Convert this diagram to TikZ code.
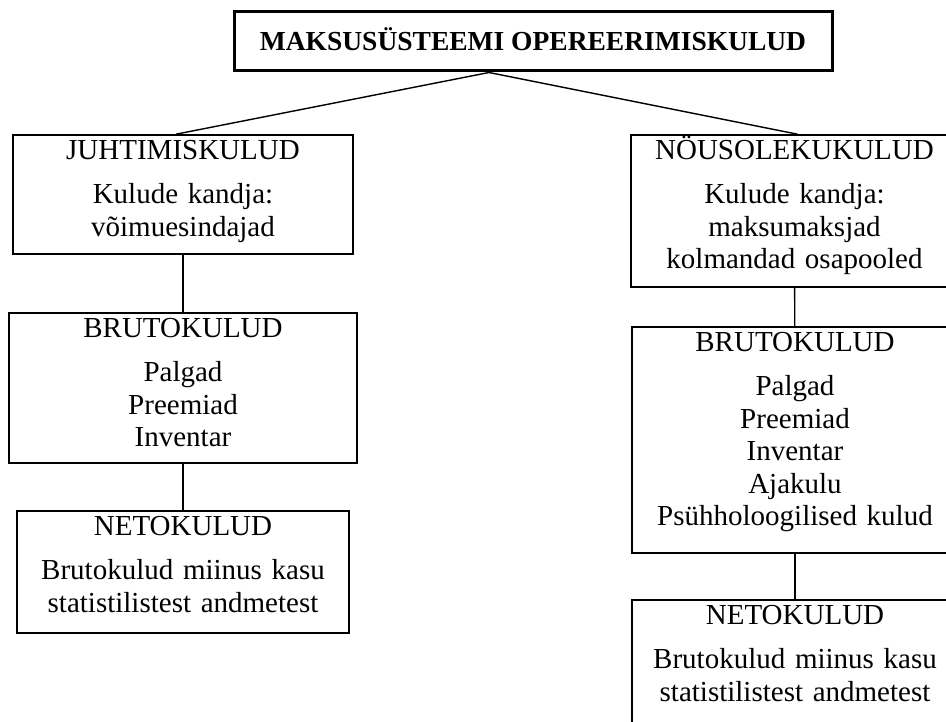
\documentclass[tikz,border=0pt]{standalone}
\usepackage{fontspec}
\setmainfont{Liberation Serif}
\usetikzlibrary{positioning}

\tikzset{
  box/.style={draw, line width=1.6pt, inner sep=0pt},
  boxtext/.style={anchor=base, inner sep=0pt, text width=#1, align=center,
    font=\fontsize{29}{32.5}\selectfont},
  link/.style={line width=1.4pt},
}

\begin{document}
\begin{tikzpicture}[x=1pt,y=-1pt]
        \useasboundingbox (0,0) rectangle (946,722);
        \clip (0,0) rectangle (946,722);
        % Title
        \node[box, line width=3pt, minimum width=598pt, minimum height=59pt,
          text height=18pt, text depth=0pt,
          font=\bfseries\fontsize{27.5}{32}\selectfont] (title) at (533,41.5)
          {MAKSUSÜSTEEMI OPEREERIMISKULUD};
        \coordinate (apex) at ([xshift=-44pt]title.south);
        % Left branch
        \node[box, minimum width=340pt, minimum height=119pt] (juht) at (183,194.5) {};
        \node[boxtext=330pt] (juhttxt) at ([yshift=-25.5pt]juht.north)
          {JUHTIMISKULUD\\[11.5pt] Kulude kandja:\\ võimuesindajad};
        \node[box, minimum width=348pt, minimum height=150pt] (brutoL) at (183,388) {};
        \node[boxtext=330pt] (brutoLtxt) at ([yshift=-25.5pt]brutoL.north)
          {BRUTOKULUD\\[11.5pt] Palgad\\ Preemiad\\ Inventar};
        \node[box, minimum width=332pt, minimum height=122pt] (netoL) at (183,572) {};
        \node[boxtext=330pt] (netoLtxt) at ([yshift=-25.5pt]netoL.north)
          {NETOKULUD\\[11.5pt] Brutokulud miinus kasu\\ statistilistest andmetest};
        % Right branch
        \node[box, minimum width=327pt, minimum height=152pt] (nous) at (794.5,211) {};
        \node[boxtext=325pt] (noustxt) at ([yshift=-25.5pt]nous.north)
          {NÖUSOLEKUKULUD\\[11.5pt] Kulude kandja:\\ maksumaksjad\\ kolmandad osapooled};
        \node[box, minimum width=326pt, minimum height=226pt] (brutoR) at (795,440) {};
        \node[boxtext=325pt] (brutoRtxt) at ([yshift=-25.5pt]brutoR.north)
          {BRUTOKULUD\\[11.5pt] Palgad\\ Preemiad\\ Inventar\\ Ajakulu\\ Psühholoogilised kulud};
        \node[box, minimum width=326pt, minimum height=160pt] (netoR) at (795,680) {};
        \node[boxtext=325pt] (netoRtxt) at ([yshift=-25.5pt]netoR.north)
          {NETOKULUD\\[11.5pt] Brutokulud miinus kasu\\ statistilistest andmetest};
        % Links
        \draw[link] (apex) -- ([xshift=-7pt]juht.north);
        \draw[link] (apex) -- ([xshift=3pt]nous.north);
        \draw[link] (juht) -- (brutoL);
        \draw[link] (brutoL) -- (netoL);
        \draw[link] (nous) -- (brutoR);
        \draw[link] (brutoR) -- (netoR);
      \end{tikzpicture}
\end{document}
